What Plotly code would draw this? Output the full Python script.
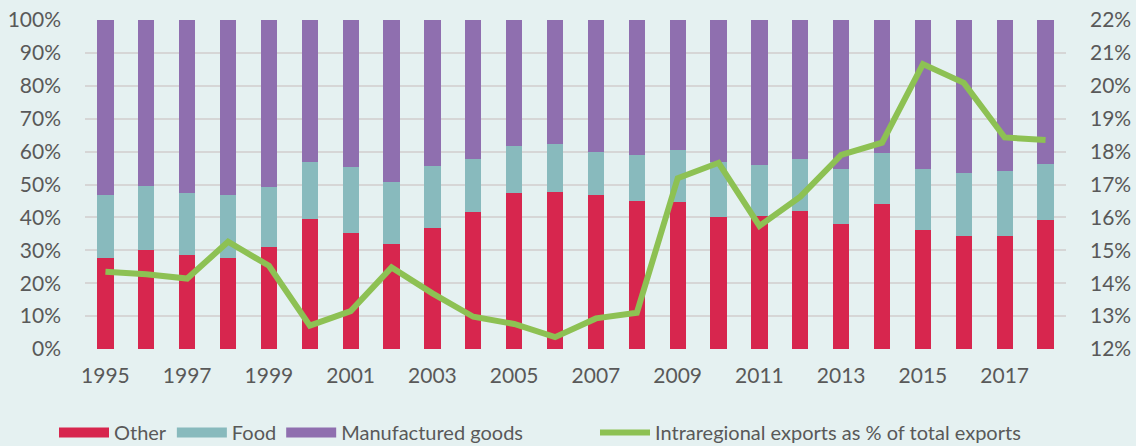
import plotly.graph_objects as go

# Values (share of intraregional exports, %)
years = list(range(1995, 2019))
other = [27.8, 30.2, 28.6, 27.8, 31.1, 39.5, 35.4, 32.0, 36.7, 41.5, 47.5, 47.8,
         46.8, 45.1, 44.6, 40.2, 40.4, 41.9, 38.1, 44.2, 36.2, 34.3, 34.3, 39.3]
food_top = [46.8, 49.4, 47.4, 46.8, 49.2, 56.8, 55.3, 50.8, 55.7, 57.7, 61.8, 62.3,
            59.9, 59.0, 60.5, 56.8, 55.9, 57.9, 54.7, 59.6, 54.7, 53.6, 54.1, 56.2]
food = [round(t - o, 1) for t, o in zip(food_top, other)]
manufactured = [round(100 - t, 1) for t in food_top]
intraregional = [14.35, 14.27, 14.14, 15.26, 14.53, 12.71, 13.15, 14.48, 13.69, 12.98,
                 12.76, 12.36, 12.93, 13.10, 17.19, 17.66, 15.74, 16.63, 17.90, 18.27,
                 20.66, 20.09, 18.43, 18.35]

left_ticks = list(range(0, 101, 10))
right_ticks = list(range(12, 23))
year_ticks = list(range(1995, 2018, 2))

C_OTHER = "#D7264E"
C_FOOD = "#88BABD"
C_MANUF = "#8F6FAF"
C_LINE = "#8DC153"
TXT = "#595959"
BG = "#E5F1F1"

fig = go.Figure()

for name, vals, col in [("Other", other, C_OTHER), ("Food", food, C_FOOD),
                        ("Manufactured goods", manufactured, C_MANUF)]:
    fig.add_trace(go.Bar(
        x=years, y=vals, name=name, marker_color=col,
        marker_line_width=0, width=0.4, showlegend=False, legendgroup=name
    ))

fig.add_trace(go.Scatter(
    x=years, y=intraregional, yaxis="y2", mode="lines",
    line=dict(color=C_LINE, width=6), showlegend=False,
    legendgroup="line"
))

# legend entries (wide swatches like the original)
for name, col in [("Other", C_OTHER), ("Food", C_FOOD), ("Manufactured goods", C_MANUF)]:
    fig.add_trace(go.Scatter(
        x=[None], y=[None], mode="lines", name=name,
        line=dict(color=col, width=14), legendgroup=name
    ))
fig.add_trace(go.Scatter(
    x=[None], y=[None], mode="lines", name="Intraregional exports as % of total exports",
    line=dict(color=C_LINE, width=6), legendgroup="line", legend="legend2"
))

legend_style = dict(
    orientation="h", xanchor="left", xref="container",
    y=0.03, yanchor="middle", yref="container",
    bgcolor="rgba(0,0,0,0)", font=dict(size=20, color=TXT),
    itemwidth=50, traceorder="normal"
)

fig.update_layout(
    width=1136, height=446,
    paper_bgcolor=BG, plot_bgcolor=BG,
    barmode="stack",
    margin=dict(l=85, r=70, t=20, b=97),
    font=dict(family="Lato", size=21, color=TXT),
    xaxis=dict(
        range=[1994.5, 2018.5], tickvals=year_ticks, ticktext=[str(y) for y in year_ticks],
        showgrid=False, zeroline=False, showline=False, ticks="", ticklabelstandoff=12,
        automargin=False
    ),
    yaxis=dict(
        range=[0, 100], tickvals=left_ticks, ticktext=[f"{v}%" for v in left_ticks],
        showgrid=True, gridcolor="#D6D6D6", gridwidth=1.5, zeroline=False,
        showline=False, ticks="", ticklabelstandoff=23, automargin=False
    ),
    yaxis2=dict(
        range=[12, 22], tickvals=right_ticks, ticktext=[f"{v}%" for v in right_ticks],
        overlaying="y", side="right", showgrid=False, zeroline=False,
        showline=False, ticks="", ticklabelstandoff=23, automargin=False
    ),
    legend=dict(legend_style, x=54 / 1136),
    legend2=dict(legend_style, x=595 / 1136),
)

fig.write_html("out.html", config={"displayModeBar": False},
               post_script="document.body.style.margin='0';")
